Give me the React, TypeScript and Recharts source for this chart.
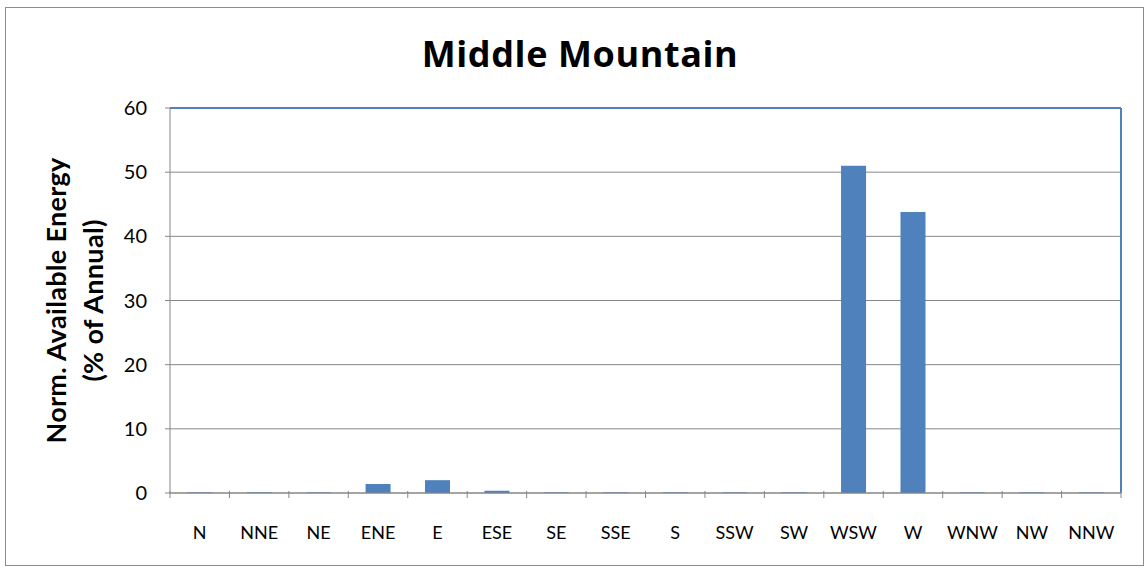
import { BarChart, Bar, XAxis, YAxis, CartesianGrid, ReferenceLine } from "recharts"

const directions = ["N", "NNE", "NE", "ENE", "E", "ESE", "SE", "SSE", "S", "SSW", "SW", "WSW", "W", "WNW", "NW", "NNW"]
const energy = [0.1, 0.1, 0.1, 1.4, 2.0, 0.35, 0.1, 0.1, 0.1, 0.1, 0.1, 51.0, 43.8, 0.1, 0.1, 0.1]
const yTicks = [0, 10, 20, 30, 40, 50, 60]

const data = directions.map((dir, i) => ({ dir, value: energy[i] }))

const FONT = "Lato, 'Open Sans', sans-serif"
const BLUE = "#4f81bd"
const GRAY = "#868686"
const W = 1148
const H = 569
const margin = { top: 108, right: 26, bottom: 36, left: 0 }
const Y_WIDTH = 170
const plotWidth = W - margin.left - margin.right - Y_WIDTH - 1
const step = plotWidth / directions.length

// Excel style: tick marks between categories, label in the middle
function DirTick(props: any) {
  const { x, y, payload, index } = props
  const left = x - step / 2
  return (
    <g>
      <line x1={left} x2={left} y1={y - 10} y2={y - 3} stroke={GRAY} />
      {index === directions.length - 1 && (
        <line x1={x + step / 2} x2={x + step / 2} y1={y - 10} y2={y - 3} stroke={GRAY} />
      )}
      <text x={x} y={y + 38} textAnchor="middle" fontFamily={FONT} fontSize={18} fill="#000">
        {payload.value}
      </text>
    </g>
  )
}

function YTitle(props: any) {
  const { viewBox } = props
  const cy = viewBox.y + viewBox.height / 2
  const style = { fontFamily: FONT, fontWeight: "bold" as const, fontSize: 27, letterSpacing: 0.3, fill: "#000" }
  return (
    <g>
      <text transform={`translate(55, ${cy}) rotate(-90)`} textAnchor="middle" dominantBaseline="central" {...style}>
        Norm. Available Energy
      </text>
      <text transform={`translate(92, ${cy}) rotate(-90)`} textAnchor="middle" dominantBaseline="central" {...style}>
        (% of Annual)
      </text>
    </g>
  )
}

export default function App() {
  return (
    <div style={{ position: "absolute", left: 0, top: 0, width: W, height: H, background: "#fff" }}>
      <div
        style={{
          position: "absolute",
          left: 5,
          top: 7,
          width: 1137,
          height: 557,
          border: "1.5px solid #8c8c8c",
        }}
      />
      <div style={{ position: "absolute", left: 0, top: 0 }}>
        <BarChart width={W} height={H} data={data} margin={margin} barCategoryGap="29%">
          <CartesianGrid yAxisId="left" vertical={false} stroke={GRAY} strokeWidth={1} />
          <XAxis
            dataKey="dir"
            height={40}
            axisLine={{ stroke: GRAY }}
            tickLine={false}
            tick={<DirTick />}
            interval={0}
            tickSize={8}
            tickMargin={0}
          />
          <YAxis
            yAxisId="left"
            width={Y_WIDTH}
            domain={[0, 60]}
            ticks={yTicks}
            interval={0}
            axisLine={{ stroke: GRAY }}
            tickLine={{ stroke: GRAY }}
            tickSize={5}
            tickMargin={18}
            tick={{ fontFamily: FONT, fontSize: 20, fill: "#000" }}
            label={{ content: <YTitle /> }}
          />
          <YAxis
            yAxisId="right"
            orientation="right"
            width={1}
            domain={[0, 60]}
            ticks={yTicks}
            tick={false}
            tickLine={false}
            axisLine={{ stroke: BLUE, strokeWidth: 2 }}
          />
          <ReferenceLine yAxisId="left" y={60} stroke={BLUE} strokeWidth={2} />
          <Bar yAxisId="left" dataKey="value" fill={BLUE} isAnimationActive={false} />
        </BarChart>
      </div>
      <svg width={W} height={100} style={{ position: "absolute", left: 0, top: 0 }}>
        <text
          x={580}
          y={67}
          textAnchor="middle"
          fontFamily="'Open Sans', sans-serif"
          fontWeight="bold"
          fontSize={36}
          letterSpacing={0.6}
          fill="#000"
        >
          Middle Mountain
        </text>
      </svg>
    </div>
  )
}
